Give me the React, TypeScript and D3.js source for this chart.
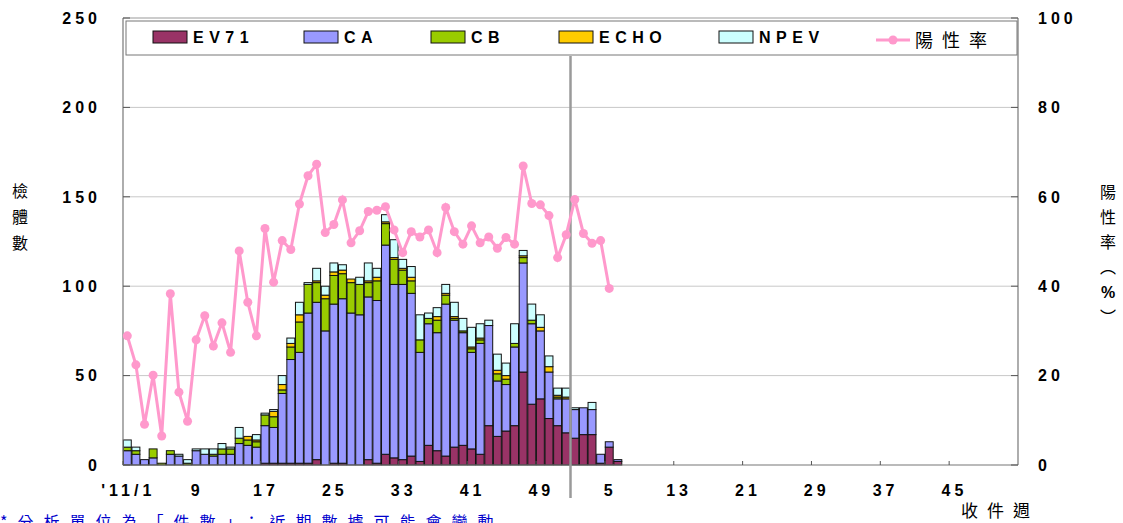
import React from "react";
import * as d3 from "d3";

const categories: string[] = [
  ...d3.range(1, 53).map((w) => `2011-${w}`),
  ...d3.range(1, 53).map((w) => `2012-${w}`),
];
const xTickLabels = ["'11/1", "9", "17", "25", "33", "41", "49", "5", "13", "21", "29", "37", "45"];
const yLeftTicks = [0, 50, 100, 150, 200, 250];
const yRightTicks = [0, 20, 40, 60, 80, 100];

// 2011 w1 .. 2012 w6
const EV71 = [0,0,0,0,0,0,0,0,0,0,0,0,0,0,0,0,1,1,1,1,1,1,3,0,1,1,0,0,3,1,6,4,3,5,2,11,8,5,10,11,9,6,22,16,19,22,52,34,37,26,22,18,15,17,17,1,10,2];
const CA   = [8,6,3,4,0,6,5,0,8,6,5,6,6,12,11,10,21,20,39,58,62,84,88,75,89,92,85,84,91,91,117,97,98,91,61,68,66,85,71,63,54,62,56,31,26,44,61,45,38,26,15,19,16,15,14,5,3,1];
const CB   = [2,2,0,5,1,2,0,1,0,0,1,3,3,3,3,3,6,6,2,7,17,16,11,18,16,14,17,17,8,11,12,14,8,7,7,3,7,5,1,1,2,2,0,4,3,2,3,2,0,0,1,0,0,0,0,0,0,0];
const ECHO = [0,0,0,0,0,0,0,0,0,0,0,0,0,0,2,1,0,3,3,2,4,0,1,2,2,2,2,0,1,2,1,1,1,2,0,0,2,1,1,0,1,1,0,2,2,0,1,0,2,3,1,1,0,0,0,0,0,0];
const NPEV = [4,2,0,0,0,0,1,2,1,3,3,3,1,6,0,3,1,1,5,3,7,1,7,5,5,3,0,4,10,5,4,10,5,6,14,3,5,5,8,7,11,8,3,9,7,11,3,9,7,6,4,5,1,0,4,0,0,0];
// positive rate (%) 2011 w1 .. 2012 w5
const positiveRate = [28.9,22.4,9.1,20.1,6.5,38.3,16.3,9.8,28,33.4,26.6,31.8,25.2,47.9,36.4,28.9,52.9,40.9,50.2,48.2,58.4,64.7,67.3,52,53.8,59.3,49.7,52.4,56.7,57,57.8,52.6,47.5,52.2,51,52.6,47.5,57.6,52.2,49.4,53.5,49.7,51,48.5,50.9,49.4,66.9,58.5,58.2,55.8,46.4,51.5,59.4,51.8,49.6,50.2,39.5];

const seriesNames = ["EV71", "CA", "CB", "ECHO", "NPEV"];
const seriesValues = [EV71, CA, CB, ECHO, NPEV];
const seriesColors = ["#993366", "#9999FF", "#99CC00", "#FFCC00", "#CCFFFF"];
const lineName = "陽性率";

const W = 1123, H = 523;
const L = 123, R = 1018, T = 18, B = 465;
const latin = "'Liberation Sans', Arial, sans-serif";
const cjk = "'Noto Sans CJK TC', 'Noto Sans CJK SC', sans-serif";

export default function App() {
  const x = d3.scaleBand<number>().domain(d3.range(categories.length)).range([L, R]).paddingInner(0.08).paddingOuter(0.04);
  const yL = d3.scaleLinear().domain([0, 250]).range([B, T]);
  const yR = d3.scaleLinear().domain([0, 100]).range([B, T]);
  const rows = EV71.map((_, i) => {
    const o: any = { i };
    seriesNames.forEach((n, k) => (o[n] = seriesValues[k][i]));
    return o;
  });
  const stack = d3.stack<any>().keys(seriesNames)(rows);
  const bw = x.bandwidth();
  const step = x.step();
  const cx = (i: number) => (x(i) as number) + bw / 2;
  const line = d3.line<number>().x((_, i) => cx(i)).y((d) => yR(d));
  const sepX = (x(52) as number) - (step - bw) / 2;

  const legendItems = [
    { x: 153, name: seriesNames[0], c: seriesColors[0] },
    { x: 304, name: seriesNames[1], c: seriesColors[1] },
    { x: 431, name: seriesNames[2], c: seriesColors[2] },
    { x: 559, name: seriesNames[3], c: seriesColors[3] },
    { x: 719, name: seriesNames[4], c: seriesColors[4] },
  ];

  return (
    <div style={{ position: "absolute", left: 0, top: 0 }}>
      <svg width={W} height={H} style={{ display: "block", background: "#fff" }}>
        {/* gridlines */}
        {yLeftTicks.slice(1, -1).map((t) => (
          <line key={t} x1={L} x2={R} y1={yL(t)} y2={yL(t)} stroke="#c8c8c8" strokeWidth={1} />
        ))}
        <line x1={L} x2={R} y1={T} y2={T} stroke="#999" strokeWidth={1} />
        {/* bars */}
        {stack.map((s, k) => (
          <g key={s.key}>
            {s.map((d, i) =>
              d[1] - d[0] > 0 ? (
                <rect key={i} x={x(i)} width={bw} y={yL(d[1])} height={yL(d[0]) - yL(d[1])}
                  fill={seriesColors[k]} stroke="#111" strokeWidth={1} />
              ) : null
            )}
          </g>
        ))}
        {/* axes */}
        <line x1={L} x2={L} y1={T} y2={B} stroke="#777" strokeWidth={1.2} />
        <line x1={R} x2={R} y1={T} y2={B} stroke="#777" strokeWidth={1.2} />
        <line x1={L} x2={R} y1={B} y2={B} stroke="#777" strokeWidth={1.2} />
        {yLeftTicks.map((t) => (
          <line key={"lt" + t} x1={L} x2={L + 7} y1={yL(t)} y2={yL(t)} stroke="#555" />
        ))}
        {yRightTicks.map((t) => (
          <line key={"rt" + t} x1={R - 7} x2={R} y1={yR(t)} y2={yR(t)} stroke="#555" />
        ))}
        {xTickLabels.map((lab, j) => (
          <line key={"xt" + j} x1={(x(j * 8) as number) - (step - bw) / 2} x2={(x(j * 8) as number) - (step - bw) / 2}
            y1={B} y2={B - 4} stroke="#555" />
        ))}
        {/* separator */}
        <line x1={sepX} x2={sepX} y1={56} y2={498} stroke="#9a9a9a" strokeWidth={2.5} />
        {/* line */}
        <path d={line(positiveRate) || ""} fill="none" stroke="#FF99CC" strokeWidth={3} />
        {positiveRate.map((v, i) => (
          <circle key={i} cx={cx(i)} cy={yR(v)} r={4.5} fill="#FF99CC" />
        ))}
        {/* tick labels */}
        {yLeftTicks.map((t) => (
          <text key={"yl" + t} x={101} y={yL(t)} dy="0.36em" textAnchor="end" fontFamily={latin}
            fontWeight="bold" fontSize={16} letterSpacing={4}>{t}</text>
        ))}
        {yRightTicks.map((t) => (
          <text key={"yr" + t} x={1038} y={yR(t)} dy="0.36em" textAnchor="start" fontFamily={latin}
            fontWeight="bold" fontSize={16} letterSpacing={4}>{t}</text>
        ))}
        {xTickLabels.map((lab, j) => (
          <text key={"xl" + j} x={cx(j * 8) + 1} y={490} dy="0.36em" textAnchor="middle" fontFamily={latin}
            fontWeight="bold" fontSize={16} letterSpacing={4}>{lab}</text>
        ))}
        {/* axis titles */}
        {["檢", "體", "數"].map((c, i) => (
          <text key={c} x={20} y={191 + i * 26} dy="0.36em" textAnchor="middle" fontFamily={cjk} fontSize={16}>{c}</text>
        ))}
        {["陽", "性", "率", "︵", "%", "︶"].map((c, i) => (
          <text key={"r" + i} x={1108} y={192 + i * 25} dy="0.36em" textAnchor="middle"
            fontFamily={c === "%" ? latin : cjk} fontWeight={c === "%" ? "bold" : "normal"} fontSize={16}>{c}</text>
        ))}
        <text x={961} y={511} dy="0.36em" fontFamily={cjk} fontSize={17} letterSpacing={9}>收件週</text>
        <text x={0} y={528} fontFamily={cjk} fontSize={16} fill="#0000CC" letterSpacing={10}>*分析單位為「件數」；近期數據可能會變動</text>
        {/* legend */}
        <rect x={126} y={21} width={891} height={34} fill="#fff" stroke="#777" strokeWidth={1} />
        {legendItems.map((it) => (
          <g key={it.name}>
            <rect x={it.x} y={31} width={34} height={12} fill={it.c} stroke="#111" strokeWidth={1} />
            <text x={it.x + 40} y={37} dy="0.36em" fontFamily={latin} fontWeight="bold" fontSize={16} letterSpacing={5.5}>{it.name}</text>
          </g>
        ))}
        <line x1={876} x2={910} y1={40} y2={40} stroke="#FF99CC" strokeWidth={3} />
        <circle cx={893} cy={40} r={4.5} fill="#FF99CC" />
        <text x={915} y={41} dy="0.36em" fontFamily={cjk} fontSize={18} letterSpacing={9}>{lineName}</text>
      </svg>
    </div>
  );
}
